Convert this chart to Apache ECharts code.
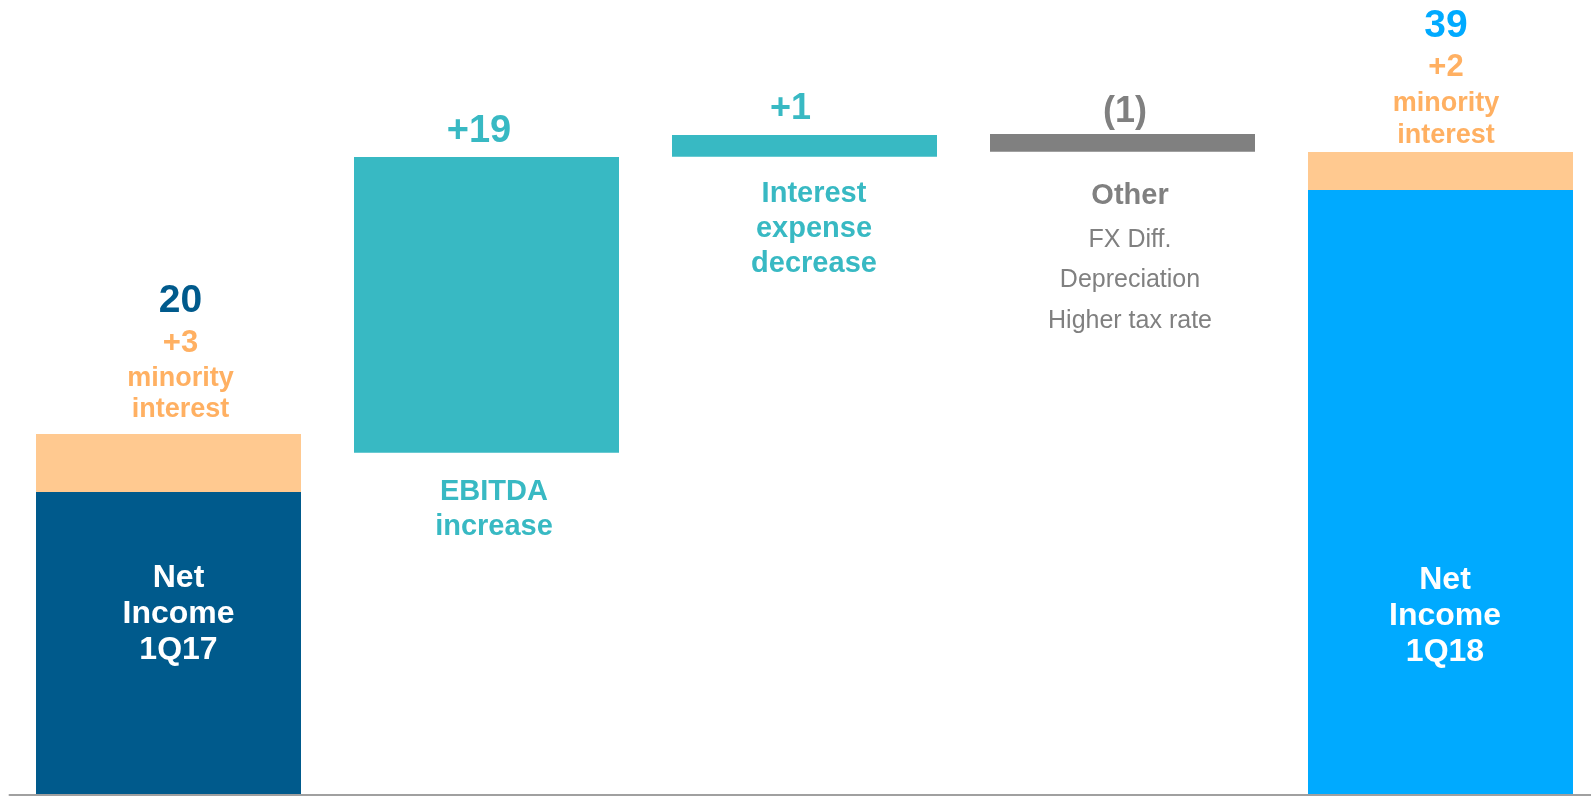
<!DOCTYPE html>
<html>
<head>
<meta charset="utf-8">
<script src="https://cdn.jsdelivr.net/npm/echarts@6/dist/echarts.min.js"></script>
<style>
html,body{margin:0;padding:0;background:#fff;}
#chart{width:1591px;height:797px;}
</style>
</head>
<body>
<div id="chart"></div>
<script>
const categories = ['Net Income 1Q17', 'EBITDA increase', 'Interest expense decrease', 'Other', 'Net Income 1Q18'];
const netIncome  = [19.55, null, null, null, 39.04];
const minority   = [3.74, null, null, null, 2.45];
const bridgeBase = [null, 22.09, 41.19, 41.51, null];
const bridgeStep = [null, 19.08, 1.40, 1.14, null];
// ---- label texts ----
const totalLabels    = ['20', null, null, null, '39'];
const minorityLabels = ['+3', null, null, null, '+2'];
const stepLabels     = [null, '+19', '+1', '(1)', null];
const stepNames      = [null, ['EBITDA', 'increase'], ['Interest', 'expense', 'decrease'], ['Other'], null];
const otherItems     = ['FX Diff.', 'Depreciation', 'Higher tax rate'];
const netNames       = [['Net', 'Income', '1Q17'], null, null, null, ['Net', 'Income', '1Q18']];

const FONT = "'Liberation Sans', Arial, sans-serif";
const COL = {
  dark: '#005A8C', bright: '#00AAFF', teal: '#38B9C3', gray: '#808080',
  orange: '#FFC990', orangeText: '#FFB062', axis: '#A0A0A0'
};
const netColors  = [COL.dark, null, null, null, COL.bright];
const stepColors = [null, COL.teal, COL.teal, COL.gray, null];

function baseText(extra) {
  return Object.assign({ fontFamily: FONT, fontWeight: 'bold', textBorderWidth: 0 }, extra);
}

// net income bars
const netData = netIncome.map((v, i) => {
  if (v == null) return '-';
  const n = netNames[i];
  return {
    value: v,
    itemStyle: { color: netColors[i] },
    label: {
      show: true,
      position: 'insideBottom',
      distance: i === 0 ? 127 : 124.5,
      offset: [i === 0 ? 10 : 4.5, 0],
      formatter: n.map(s => '{n|' + s + '}').join('\n'),
      rich: { n: baseText({ fontSize: 32, color: '#FFFFFF', lineHeight: 36 }) }
    }
  };
});

// minority interest bars with the total label on top
const minData = minority.map((v, i) => {
  if (v == null) return '-';
  const first = i === 0;
  return {
    value: v,
    itemStyle: { color: COL.orange },
    label: {
      show: true,
      position: 'top',
      distance: first ? 8.5 : 1,
      offset: [first ? 12 : 5.5, 0],
      formatter: '{a|' + totalLabels[i] + '}\n{b|' + minorityLabels[i] + '}\n{c|minority}\n{c|interest}',
      rich: {
        a: baseText({ fontSize: 39, color: netColors[i], lineHeight: first ? 48.5 : 41.5 }),
        b: baseText({ fontSize: 31, color: COL.orangeText, lineHeight: first ? 37.5 : 41.5 }),
        c: baseText({ fontSize: 27, color: COL.orangeText, lineHeight: 31.5 })
      }
    }
  };
});

// invisible base of the bridge steps, carries the description under each step
const belowCfg = [null,
  { distance: 22, offset: [7.5, 0], lh: 34.6 },
  { distance: 19.5, offset: [9.5, 0], lh: 35 },
  { distance: 21.5, offset: [7.5, 0], lh: 46.5 },
  null];
const baseData = bridgeBase.map((v, i) => {
  if (v == null) return '-';
  const cfg = belowCfg[i];
  let fmt = stepNames[i].map(s => '{t|' + s + '}').join('\n');
  if (i === 3) fmt += '\n' + otherItems.map(s => '{s|' + s + '}').join('\n');
  return {
    value: v,
    label: {
      show: true,
      position: 'insideTop',
      distance: cfg.distance,
      offset: cfg.offset,
      formatter: fmt,
      rich: {
        t: baseText({ fontSize: 29, color: stepColors[i], lineHeight: cfg.lh }),
        s: baseText({ fontSize: 25, fontWeight: 'normal', color: COL.gray, lineHeight: 40.5 })
      }
    }
  };
});

const aboveCfg = [null,
  { distance: 3, offset: [-7.5, 0], size: 38, lh: 44 },
  { distance: 5.5, offset: [-14, 0], size: 36, lh: 40 },
  { distance: -0.5, offset: [2.5, 0], size: 36, lh: 44 },
  null];
const stepData = bridgeStep.map((v, i) => {
  if (v == null) return '-';
  const cfg = aboveCfg[i];
  return {
    value: v,
    itemStyle: { color: stepColors[i] },
    label: {
      show: true,
      position: 'top',
      distance: cfg.distance,
      offset: cfg.offset,
      formatter: '{p|' + stepLabels[i] + '}',
      rich: { p: baseText({ fontSize: cfg.size, color: stepColors[i], lineHeight: cfg.lh }) }
    }
  };
});

const chart = echarts.init(document.getElementById('chart'), null, { renderer: 'canvas' });
chart.setOption({
  animation: false,
  backgroundColor: '#FFFFFF',
  grid: { left: 9.5, width: 1590, top: 0, bottom: 2, containLabel: false, outerBoundsMode: 'none' },
  xAxis: {
    type: 'category',
    data: categories,
    z: 5,
    axisLine: { show: true, lineStyle: { color: COL.axis, width: 2 } },
    axisTick: { show: false },
    axisLabel: { show: false },
    splitLine: { show: false }
  },
  yAxis: {
    type: 'value', min: 0, max: 51.3, show: false,
    splitLine: { show: false }
  },
  series: [
    { name: 'base', type: 'bar', stack: 'w', barWidth: 265, data: baseData,
      itemStyle: { color: 'rgba(0,0,0,0)' }, silent: true },
    { name: 'Net income', type: 'bar', stack: 'w', barWidth: 265, data: netData },
    { name: 'Change', type: 'bar', stack: 'w', barWidth: 265, data: stepData },
    { name: 'Minority interest', type: 'bar', stack: 'w', barWidth: 265, data: minData }
  ]
});
</script>
</body>
</html>
